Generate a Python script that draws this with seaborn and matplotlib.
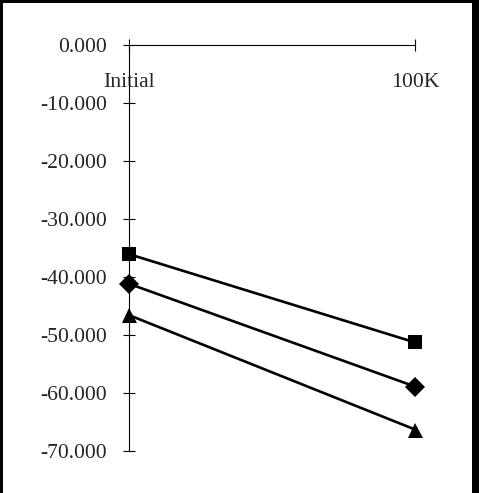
import numpy as np
import pandas as pd
import matplotlib
matplotlib.use("Agg")
import matplotlib.pyplot as plt
import seaborn as sns
from matplotlib.patches import Rectangle

# ---- data ----
categories = ["Initial", "100K"]
series_names = ["square", "diamond", "triangle"]
square_vals = [-36.1, -51.3]
diamond_vals = [-41.2, -58.9]
triangle_vals = [-46.6, -66.3]
ytick_values = [0, -10, -20, -30, -40, -50, -60, -70]
ytick_labels = ["0.000", "-10.000", "-20.000", "-30.000", "-40.000", "-50.000", "-60.000", "-70.000"]

rows = []
for name, vals in zip(series_names, [square_vals, diamond_vals, triangle_vals]):
    for i, (c, v) in enumerate(zip(categories, vals)):
        rows.append({"series": name, "pos": i, "cat": c, "value": v})
df = pd.DataFrame(rows)

sns.set_style("white")
plt.rcParams["font.family"] = ["Liberation Serif", "DejaVu Serif"]

W, H, DPI = 479, 493, 100
fig = plt.figure(figsize=(W / DPI, H / DPI), dpi=DPI)
fig.patch.set_facecolor("white")
ax = fig.add_axes([129 / W, (H - 451) / H, (415 - 129) / W, (451 - 44.5) / H])
ax.set_facecolor("white")

sns.lineplot(data=df, x="pos", y="value", style="series",
             markers={"square": "s", "diamond": "D", "triangle": "^"},
             dashes=False, color="black", linewidth=1.9, legend=False, ax=ax,
             clip_on=False, markeredgewidth=0)
for ln in ax.lines:
    m = ln.get_marker()
    if m == "s":
        ln.set_markersize(10.4)
    elif m == "D":
        ln.set_markersize(10.4)
    elif m == "^":
        ln.set_markersize(10.8)
    ln.set_clip_on(False)

ax.set_xlim(0, 1)
ax.set_ylim(-70, 0)
ax.set_yticks(ytick_values)
ax.set_yticklabels(ytick_labels)
ax.set_xticks(range(len(categories)))
ax.set_xticklabels(categories)
ax.set_xlabel("")
ax.set_ylabel("")

for s in ["top", "right"]:
    ax.spines[s].set_visible(False)
ax.spines["bottom"].set_position(("data", 0))
for s in ["left", "bottom"]:
    ax.spines[s].set_linewidth(0.8)
    ax.spines[s].set_color("black")

ax.tick_params(axis="y", direction="inout", length=9, width=0.8, color="black",
               labelsize=15.6, pad=11.5, left=True)
ax.tick_params(axis="x", direction="inout", length=9, width=0.8, color="black",
               labelsize=15.6, pad=16, bottom=True)

# figure border (left, top, right)
fig.patches.append(Rectangle((0, 0), 3 / W, 1, transform=fig.transFigure,
                             facecolor="black", edgecolor="none", zorder=10))
fig.patches.append(Rectangle((0, 1 - 3 / H), 1, 3 / H, transform=fig.transFigure,
                             facecolor="black", edgecolor="none", zorder=10))
fig.patches.append(Rectangle((472 / W, 0), 7 / W, 1, transform=fig.transFigure,
                             facecolor="black", edgecolor="none", zorder=10))

fig.savefig("out.png", dpi=DPI)
